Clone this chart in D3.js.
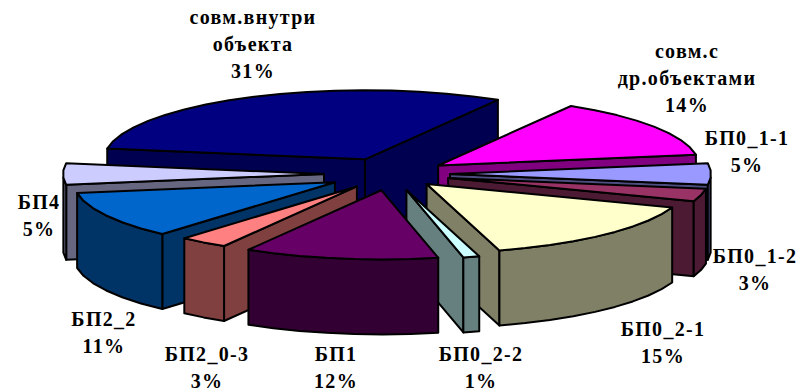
<!DOCTYPE html>
<html>
<head>
<meta charset="utf-8">
<script src="https://cdnjs.cloudflare.com/ajax/libs/d3/7.8.5/d3.min.js"></script>
<style>
  html, body { margin: 0; padding: 0; background: #fff; }
  svg { display: block; }
  text { font-family: "Liberation Serif", serif; font-weight: bold; font-size: 20px; letter-spacing: 1.3px; fill: #000; }
</style>
</head>
<body>
<script>
// Exploded 3D pie of the work share per category.
const categories = ["совм.внутри объекта", "совм.с др.объектами", "БП0_1-1", "БП0_1-2", "БП0_2-1",
  "БП0_2-2", "БП1", "БП2_0-3", "БП2_2", "БП4"];
const shares = [31, 14, 5, 3, 15, 1, 12, 3, 11, 5];
const topColors = ["#000080", "#ff00ff", "#9999ff", "#993366", "#ffffcc",
  "#ccffff", "#660066", "#ff8080", "#0066cc", "#ccccff"];
const sideColors = ["#000050", "#800080", "#4d4d80", "#4d1a33", "#808066",
  "#668080", "#330033", "#804040", "#003366", "#666680"];
// How far each slice is pulled out of the disc.
const pullOut = [61, 57, 59, 59, 52, 62, 62, 58, 64, 67];

// Label blocks, one array of lines per slice, with the centre and baseline of the first line.
const labelLines = [["совм.внутри", "объекта", "31%"], ["совм.с", "др.объектами", "14%"],
  ["БП0_1-1", "5%"], ["БП0_1-2", "3%"], ["БП0_2-1", "15%"], ["БП0_2-2", "1%"],
  ["БП1", "12%"], ["БП2_0-3", "3%"], ["БП2_2", "11%"], ["БП4", "5%"]];
const labelAnchors = [[253, 24], [687, 58], [747, 145], [755, 263], [663, 336], [481, 361],
  [336, 361], [207, 361], [104, 326], [39, 209]];

const width = 798, height = 392;
const radius = 261, depth = 75;
const tilt = 0.265, lineGap = 27;

const svg = d3.select("body").append("svg")
  .attr("width", width)
  .attr("height", height)
  .attr("viewBox", "0 0 " + width + " " + height);

// Ground plane (units along the disc) to screen pixels.
const xScale = d3.scaleLinear().domain([0, 1]).range([391, 392]);
const yScale = d3.scaleLinear().domain([0, 1]).range([174, 174 + tilt]);

const pie = d3.pie().sort(null).value(d => d)
  .startAngle(-81 * Math.PI / 180)
  .endAngle(279 * Math.PI / 180);

const slices = pie(shares).map((d, i) => {
  const mid = (d.startAngle + d.endAngle) / 2;
  return {
    i: i,
    start: d.startAngle,
    end: d.endAngle,
    mid: mid,
    ox: Math.sin(mid) * pullOut[i],
    oy: -Math.cos(mid) * pullOut[i]
  };
});

const line = d3.line().x(p => p[0]).y(p => p[1]);

// Screen point of a disc position inside a slice, dropped by drop pixels.
function project(s, angle, r, drop) {
  return [
    xScale(s.ox + Math.sin(angle) * r),
    yScale(s.oy - Math.cos(angle) * r) + drop
  ];
}

// Rim points are a little coarse, the disc is faceted rather than round.
function rimAngles(s) {
  const n = Math.max(1, Math.round((s.end - s.start) / 0.11));
  return d3.range(n + 1).map(k => s.start + (s.end - s.start) * k / n);
}

function face(points, fill) {
  svg.append("path")
    .attr("d", line(points) + "Z")
    .attr("fill", fill)
    .attr("stroke", "#000")
    .attr("stroke-width", 2)
    .attr("stroke-linejoin", "round");
}

// Back slices first so the front ones paint over them.
const order = slices.slice().sort((a, b) => d3.ascending(-Math.cos(a.mid), -Math.cos(b.mid)));

order.forEach(s => {
  const side = sideColors[s.i];
  const rim = rimAngles(s);
  const topRim = rim.map(a => project(s, a, radius, 0));
  const apex = project(s, 0, 0, 0);
  const apexLow = project(s, 0, 0, depth);
  const last = rim.length - 1;

  // Only the walls that face the viewer get drawn.
  if (Math.sin(s.start) < 0) {
    face([apex, topRim[0], project(s, rim[0], radius, depth), apexLow], side);
  }
  if (Math.sin(s.end) > 0) {
    face([apex, topRim[last], project(s, rim[last], radius, depth), apexLow], side);
  }
  const front = rim.filter(a => Math.cos(a) < 0.02);
  if (front.length > 1) {
    const upper = front.map(a => project(s, a, radius, 0));
    const lower = front.map(a => project(s, a, radius, depth));
    face(upper.concat(lower.reverse()), side);
  }
  face([apex].concat(topRim), topColors[s.i]);
});

labelLines.forEach((lines, i) => {
  const t = svg.append("text")
    .attr("text-anchor", "middle")
    .attr("aria-label", categories[i]);
  lines.forEach((txt, k) => {
    t.append("tspan")
      .attr("x", labelAnchors[i][0])
      .attr("y", labelAnchors[i][1] + k * lineGap)
      .text(txt);
  });
});
</script>
</body>
</html>
